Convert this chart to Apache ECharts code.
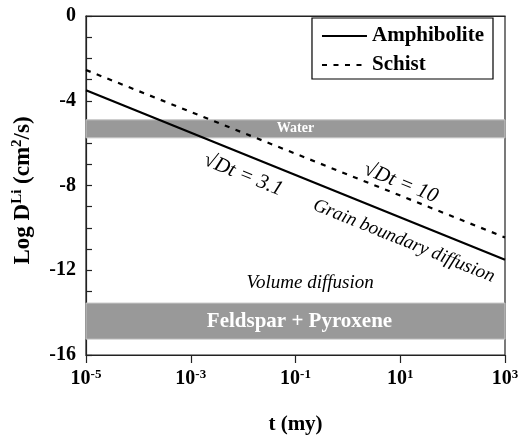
<!DOCTYPE html>
<html>
<head>
<meta charset="utf-8">
<script src="https://cdn.jsdelivr.net/npm/echarts@6/dist/echarts.min.js"></script>
<style>
html,body{margin:0;padding:0;background:#fff;}
#c{width:520px;height:435px;}
</style>
</head>
<body>
<div id="c"></div>
<script>
// ---- data ----
const timeMy = [1e-5, 1e3];
const amphibolite = [-3.5, -11.5];
const schist = [-2.55, -10.45];
const waterBand = [-4.9, -5.75];
const feldsparBand = [-13.55, -15.25];
const xTickExponents = ['-5', '-3', '-1', '1', '3'];
const yMin = -16, yMax = 0;
const noteTexts = ['√Dt = 3.1', '√Dt = 10', 'Grain boundary diffusion', 'Volume diffusion'];
const noteT = [0.01, 10.2, 11.7, 0.19];
const noteLogD = [-7.5, -7.88, -10.62, -12.6];
const noteAlongLine = [true, true, true, false];

const FF = '"Liberation Serif", "Times New Roman", serif';
const chart = echarts.init(document.getElementById('c'), null, {renderer: 'canvas'});

function pairs(xs, ys) { return xs.map((x, i) => [x, ys[i]]); }

const option = {
  animation: false,
  backgroundColor: '#fff',
  grid: {left: 86, right: 15, top: 16, bottom: 80, containLabel: false, outerBoundsMode: 'none',
         show: true, borderColor: '#222', borderWidth: 1.2, backgroundColor: 'transparent'},
  legend: {
    data: ['Amphibolite', 'Schist'],
    orient: 'vertical',
    right: 27, top: 18,
    borderColor: '#000', borderWidth: 1.2,
    padding: [7, 9, 3, 9],
    itemWidth: 45, itemHeight: 14, itemGap: 7,
    backgroundColor: '#fff',
    itemStyle: {opacity: 0},
    textStyle: {fontFamily: FF, fontSize: 21, fontWeight: 'bold', color: '#000', lineHeight: 22}
  },
  xAxis: [
    {
      type: 'log', logBase: 10, min: timeMy[0], max: timeMy[1],
      position: 'bottom',
      axisLine: {show: true, lineStyle: {color: '#222', width: 1.2}},
      axisTick: {show: false}, axisLabel: {show: false}, splitLine: {show: false}, minorTick: {show: false}
    },
    {
      type: 'category', data: xTickExponents, boundaryGap: false,
      position: 'bottom',
      name: 't (my)', nameLocation: 'middle', nameGap: 59,
      nameTextStyle: {fontFamily: FF, fontSize: 21, fontWeight: 'bold', color: '#000'},
      axisLine: {show: true, lineStyle: {color: '#222', width: 1.2}},
      axisTick: {show: true, inside: false, length: 8, lineStyle: {color: '#222', width: 1.2}},
      axisLabel: {
        margin: 13, interval: 0,
        formatter: v => '{b|10}{s|' + v + '}',
        rich: {
          b: {fontFamily: FF, fontSize: 20, fontWeight: 'bold', color: '#000', lineHeight: 22},
          s: {fontFamily: FF, fontSize: 13, fontWeight: 'bold', color: '#000', lineHeight: 10, verticalAlign: 'top'}
        }
      },
      splitLine: {show: false}
    }
  ],
  yAxis: {
    type: 'value', min: yMin, max: yMax, interval: 1,
    name: '{b|Log D}{s|Li}{b| (cm}{s|2}{b|/s)}',
    nameLocation: 'middle', nameGap: 50, nameRotate: 90,
    nameTextStyle: {
      padding: [0, 10, 0, 0],
      rich: {
        b: {fontFamily: FF, fontSize: 23, fontWeight: 'bold', color: '#000', lineHeight: 26},
        s: {fontFamily: FF, fontSize: 15, fontWeight: 'bold', color: '#000', lineHeight: 13, verticalAlign: 'top'}
      }
    },
    axisLine: {show: true, lineStyle: {color: '#222', width: 1.2}},
    axisTick: {show: true, inside: true, length: 6, lineStyle: {color: '#222', width: 1.2}},
    axisLabel: {
      margin: 10,
      fontFamily: FF, fontSize: 20, fontWeight: 'bold', color: '#000',
      formatter: v => (v % 4 === 0 ? String(v) : '')
    },
    splitLine: {show: false}
  },
  series: [
    {
      name: 'bands', type: 'line', data: [], z: 1, silent: true,
      markArea: {
        silent: true,
        itemStyle: {color: '#999999', borderColor: '#c4c4c4', borderWidth: 1},
        data: [
          [{yAxis: waterBand[0], name: 'Water',
            label: {show: true, position: 'inside', color: '#fff', fontFamily: FF, fontWeight: 'bold', fontSize: 14}},
           {yAxis: waterBand[1]}],
          [{yAxis: feldsparBand[0], name: 'Feldspar + Pyroxene',
            label: {show: true, position: 'inside', offset: [4, 0], color: '#fff', fontFamily: FF, fontWeight: 'bold', fontSize: 21}},
           {yAxis: feldsparBand[1]}]
        ]
      }
    },
    {
      name: 'Amphibolite', type: 'line', z: 3, xAxisIndex: 0,
      data: pairs(timeMy, amphibolite), showSymbol: false, symbol: 'none',
      lineStyle: {color: '#000', width: 2.2, type: 'solid'}, itemStyle: {color: '#000'}
    },
    {
      name: 'Schist', type: 'line', z: 3, xAxisIndex: 0,
      data: pairs(timeMy, schist), showSymbol: false, symbol: 'none',
      lineStyle: {color: '#000', width: 2.2, type: [5, 6.5]}, itemStyle: {color: '#000'}
    }
  ]
};
chart.setOption(option);

// annotations anchored in data coordinates
const p0 = chart.convertToPixel({xAxisIndex: 0, yAxisIndex: 0}, [timeMy[0], amphibolite[0]]);
const p1 = chart.convertToPixel({xAxisIndex: 0, yAxisIndex: 0}, [timeMy[1], amphibolite[1]]);
const lineAngle = Math.atan2(p1[1] - p0[1], p1[0] - p0[0]);
const graphics = noteTexts.map((txt, i) => {
  const p = chart.convertToPixel({xAxisIndex: 0, yAxisIndex: 0}, [noteT[i], noteLogD[i]]);
  const big = i < 2;
  return {
    type: 'text', x: p[0], y: p[1], z: 10,
    rotation: noteAlongLine[i] ? -lineAngle : 0,
    style: {
      text: txt, fill: '#000',
      font: 'italic ' + (big ? 21 : 19) + 'px ' + FF,
      align: 'center', verticalAlign: 'middle',
      textAlign: 'center', textVerticalAlign: 'middle'
    }
  };
});
chart.setOption({graphic: graphics});
</script>
</body>
</html>
